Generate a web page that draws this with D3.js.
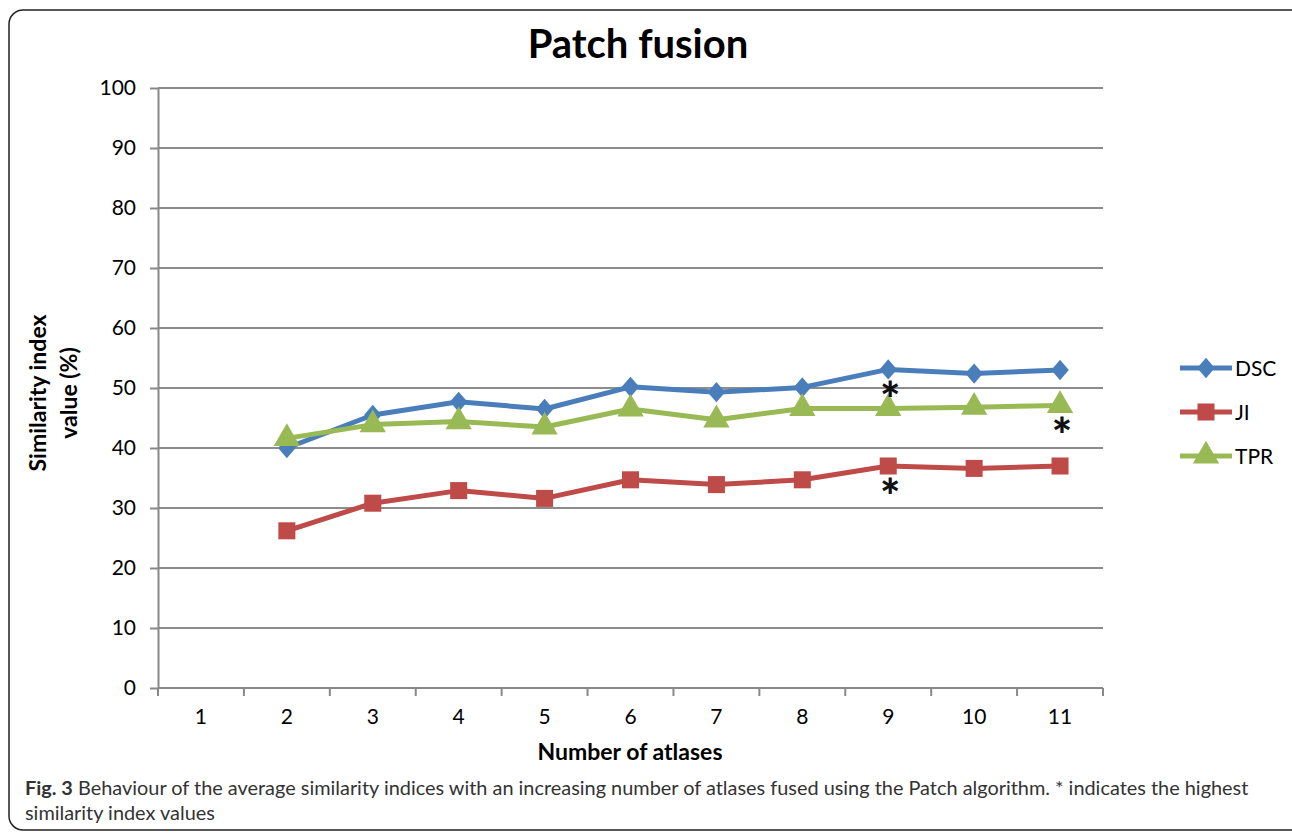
<!DOCTYPE html>
<meta charset="utf-8">
<style>
body { margin: 0; background: #fff; }
svg text { font-family: Lato, "Open Sans", sans-serif; }
.axis text { font-size: 21px; fill: #000; }
.axis path, .axis line { stroke: #888; stroke-width: 2; }
.grid line { stroke: #8c8c8c; stroke-width: 2; }
</style>
<script src="https://cdn.jsdelivr.net/npm/d3@7"></script>
<body>
<script>

// data
var atlases = [1, 2, 3, 4, 5, 6, 7, 8, 9, 10, 11];
var dsc = [null, 40.0, 45.5, 47.7, 46.5, 50.2, 49.3, 50.1, 53.1, 52.4, 53.0];
var ji  = [null, 26.2, 30.8, 32.9, 31.6, 34.7, 33.9, 34.7, 37.0, 36.6, 37.0];
var tpr = [null, 41.6, 43.9, 44.4, 43.5, 46.5, 44.7, 46.6, 46.6, 46.8, 47.1];
var yTicks = [0, 10, 20, 30, 40, 50, 60, 70, 80, 90, 100];
var seriesNames = ["DSC", "JI", "TPR"];
var seriesColors = ["#4a7ebb", "#be4b48", "#98b954"];
var seriesValues = [dsc, ji, tpr];
// highest values marked with *
var stars = [{x: 9, s: 0}, {x: 9, s: 1}, {x: 11, s: 2}];

// excel-like diamond, a bit wider than d3's
var excelDiamond = {
  draw: function(ctx, size) {
    var r = Math.sqrt(size / 2);
    ctx.moveTo(0, -r * 1.1);
    ctx.lineTo(r * 0.95, 0);
    ctx.lineTo(0, r * 1.1);
    ctx.lineTo(-r * 0.95, 0);
    ctx.closePath();
  }
};
var seriesShapes = [excelDiamond, d3.symbolSquare, d3.symbolTriangle];
var seriesSizes = [170, 290, 300];

var W = 1292, H = 833;
var margin = {left: 158, right: 1103, top: 88, bottom: 688};

var svg = d3.select("body").append("svg")
    .attr("width", W)
    .attr("height", H);

// frame with rounded corners (right side runs off the picture)
svg.append("rect")
    .attr("x", 9).attr("y", 10)
    .attr("width", 1310).attr("height", 820)
    .attr("rx", 14)
    .attr("fill", "none")
    .attr("stroke", "#222")
    .attr("stroke-width", 1.5);

var x = d3.scaleBand()
    .domain(atlases)
    .range([margin.left, margin.right]);

var y = d3.scaleLinear()
    .domain([0, 100])
    .range([margin.bottom, margin.top]);

// gridlines
svg.append("g").attr("class", "grid")
  .selectAll("line")
  .data(yTicks.slice(1))
  .enter().append("line")
    .attr("x1", margin.left)
    .attr("x2", margin.right)
    .attr("y1", function(d) { return y(d); })
    .attr("y2", function(d) { return y(d); });

// y axis
var yAxis = svg.append("g").attr("class", "axis")
    .attr("transform", "translate(" + margin.left + ",0)")
    .call(d3.axisLeft(y).tickValues(yTicks).tickSize(8).tickSizeOuter(0).tickPadding(14));

// x axis: ticks at category boundaries
var xAxis = svg.append("g").attr("class", "axis")
    .attr("transform", "translate(0," + margin.bottom + ")")
    .call(d3.axisBottom(x).tickSize(0).tickSizeOuter(0).tickPadding(21));
xAxis.selectAll(".tick line").remove();
xAxis.select(".domain").attr("d", "M" + margin.left + ",0H" + margin.right);
xAxis.selectAll(".bound")
    .data(atlases.concat([12]))
    .enter().append("line")
    .attr("class", "bound")
    .attr("x1", function(d, i) { return margin.left + i * x.bandwidth(); })
    .attr("x2", function(d, i) { return margin.left + i * x.bandwidth(); })
    .attr("y1", 0).attr("y2", 8);

function cx(d) { return x(d) + x.bandwidth() / 2; }

var line = d3.line()
    .defined(function(d) { return d[1] != null; })
    .x(function(d) { return cx(d[0]); })
    .y(function(d) { return y(d[1]); });

seriesValues.forEach(function(vals, s) {
  var pts = atlases.map(function(a, i) { return [a, vals[i]]; });
  svg.append("path")
      .datum(pts)
      .attr("d", line)
      .attr("fill", "none")
      .attr("stroke", seriesColors[s])
      .attr("stroke-width", 5)
      .attr("stroke-linejoin", "round");
  svg.selectAll(".m" + s)
      .data(pts.filter(function(d) { return d[1] != null; }))
      .enter().append("path")
      .attr("class", "m" + s)
      .attr("transform", function(d) { return "translate(" + cx(d[0]) + "," + y(d[1]) + ")"; })
      .attr("d", d3.symbol().type(seriesShapes[s]).size(seriesSizes[s]))
      .attr("fill", seriesColors[s]);
});

// asterisks
svg.selectAll(".star")
    .data(stars)
    .enter().append("text")
    .attr("class", "star")
    .attr("x", function(d) { return cx(d.x) + 2; })
    .attr("y", function(d) { return y(seriesValues[d.s][d.x - 1]) + 48; })
    .attr("text-anchor", "middle")
    .attr("font-size", "48px")
    .attr("font-weight", "900")
    .attr("fill", "#111")
    .text("*");

// legend
var legend = svg.selectAll(".legend")
    .data(seriesNames)
    .enter().append("g")
    .attr("class", "legend")
    .attr("transform", function(d, i) { return "translate(1180," + (368 + i * 44) + ")"; });
legend.append("line")
    .attr("x1", 0).attr("x2", 52)
    .attr("stroke", function(d, i) { return seriesColors[i]; })
    .attr("stroke-width", 5);
legend.append("path")
    .attr("transform", "translate(26,0)")
    .attr("d", function(d, i) { return d3.symbol().type(seriesShapes[i]).size(seriesSizes[i])(); })
    .attr("fill", function(d, i) { return seriesColors[i]; });
legend.append("text")
    .attr("x", 55).attr("y", 8)
    .attr("font-size", "21px")
    .text(function(d) { return d; });

// titles
svg.append("text")
    .attr("x", 638).attr("y", 58)
    .attr("text-anchor", "middle")
    .attr("font-size", "40px")
    .attr("font-weight", "bold")
    .text("Patch fusion");

svg.append("text")
    .attr("x", 630).attr("y", 760)
    .attr("text-anchor", "middle")
    .attr("font-size", "23px")
    .attr("font-weight", "bold")
    .text("Number of atlases");

var yt = svg.append("text")
    .attr("transform", "translate(46,393) rotate(-90)")
    .attr("text-anchor", "middle")
    .attr("font-size", "23px")
    .attr("font-weight", "bold");
yt.append("tspan").attr("x", 0).attr("y", 0).text("Similarity index");
yt.append("tspan").attr("x", 0).attr("y", 31).text("value (%)");

// caption
var cap = svg.append("text")
    .attr("x", 25).attr("y", 795)
    .attr("font-size", "19.9px")
    .attr("fill", "#333");
cap.append("tspan").attr("font-weight", "bold").text("Fig. 3");
cap.append("tspan").text(" Behaviour of the average similarity indices with an increasing number of atlases fused using the Patch algorithm. * indicates the highest");
svg.append("text")
    .attr("x", 25).attr("y", 820)
    .attr("font-size", "19.9px")
    .attr("fill", "#333")
    .text("similarity index values");

</script>
</body>
